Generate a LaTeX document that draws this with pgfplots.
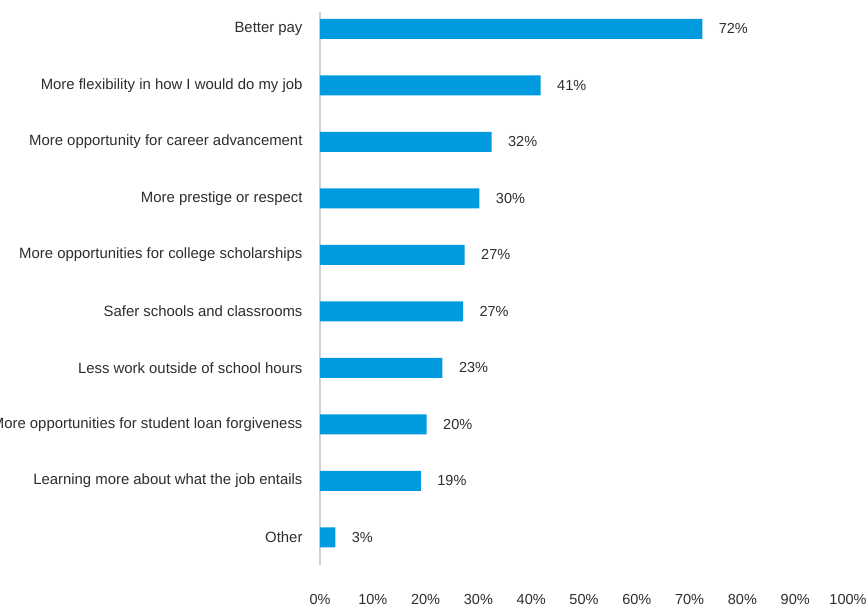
\documentclass[border=0pt]{standalone}
\usepackage{pgfplots}
\pgfplotsset{compat=1.18}
\usepackage{fontspec}
\setmainfont{Liberation Sans}
\definecolor{barblue}{RGB}{0,155,223}
\definecolor{textgray}{RGB}{45,45,45}
\definecolor{axisgray}{RGB}{210,210,210}
\begin{document}
\begin{tikzpicture}
\useasboundingbox (0,0) rectangle (868pt,-609pt);
\begin{axis}[
  at={(320pt,-565pt)}, anchor=south west,
  scale only axis, width=528pt, height=553pt,
  xmin=0, xmax=100, ymin=-0.487, ymax=9.30,
  xbar, bar width=20pt,
  axis x line=none,
  axis y line*=left,
  y axis line style={draw=axisgray, line width=2pt, -},
  ytick={0,...,9},
  yticklabels={Other,
    Learning more about what the job entails,
    More opportunities for student loan forgiveness,
    Less work outside of school hours,
    Safer schools and classrooms,
    More opportunities for college scholarships,
    More prestige or respect,
    More opportunity for career advancement,
    More flexibility in how I would do my job,
    Better pay},
  major tick length=0pt,
  yticklabel style={anchor=east, xshift=-14pt, font=\fontsize{14.9pt}{17pt}\selectfont, text=textgray},
  point meta=explicit,
  nodes near coords={\pgfmathprintnumber[assume math mode=true]{\pgfplotspointmeta}\%},
  nodes near coords align={horizontal},
  every node near coord/.append style={anchor=west, xshift=13pt, font=\fontsize{14.5pt}{17pt}\selectfont, text=textgray},
  clip=false,
]
\addplot[fill=barblue, draw=none] coordinates {
  (2.9,0) [3]
  (19.1,1) [19]
  (20.2,2) [20]
  (23.2,3) [23]
  (27.1,4) [27]
  (27.4,5) [27]
  (30.2,6) [30]
  (32.5,7) [32]
  (41.8,8) [41]
  (72.4,9) [72]
};
\end{axis}
\begin{axis}[
  at={(320pt,-565pt)}, anchor=south west,
  scale only axis, width=528pt, height=553pt,
  xmin=0, xmax=100, ymin=0, ymax=1,
  axis y line=none,
  axis x line*=bottom,
  x axis line style={draw=none},
  xtick={0,10,...,100},
  xticklabels={0\%,10\%,20\%,30\%,40\%,50\%,60\%,70\%,80\%,90\%,100\%},
  major tick length=0pt,
  xticklabel style={anchor=center, yshift=-35pt, font=\fontsize{14.5pt}{17pt}\selectfont, text=textgray},
]
\addplot[draw=none] coordinates {(0,0)};
\end{axis}
\end{tikzpicture}
\end{document}
